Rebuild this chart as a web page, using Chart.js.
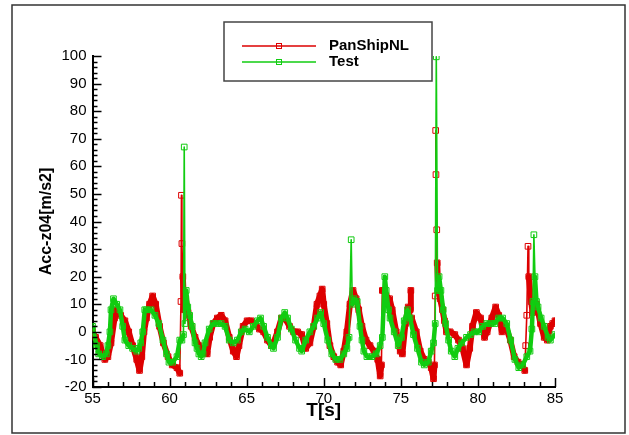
<!DOCTYPE html>
<html lang="en">
<head>
<meta charset="UTF-8">
<title>Acc-z04 PanShipNL vs Test</title>
<script src="https://cdn.jsdelivr.net/npm/chart.js"></script>
<style>
    body { margin: 0; background: #fff; }
    #wrap { position: relative; width: 629px; height: 435px; }
</style>
</head>
<body>
<div id="wrap">
    <canvas id="acc-chart" width="629" height="435"></canvas>
</div>
<script>
// [T(s), Acc]
const panShipNL = [
    [55.0,0],[55.2,-2],[55.5,-5],[55.8,-10],[56.0,-9],[56.2,-4],[56.43,5],[56.55,8],[56.83,6],[57.1,4],
    [57.35,0],[57.6,-5],[57.87,-10],[58.05,-14],[58.2,-9],[58.34,0],[58.5,5],[58.7,10],[58.9,13],[59.1,10],
    [59.35,2],[59.6,-4],[59.9,-9],[60.17,-12],[60.48,-13],[60.66,-15],[60.74,11],[60.77,49.5],[60.8,32],[60.86,20],
    [60.95,8],[61.05,12],[61.2,7],[61.4,2],[61.65,-2],[61.9,-5],[62.17,-7],[62.44,-8],[62.6,-2],[62.83,3],
    [63.1,5],[63.35,6],[63.6,4],[63.87,-2],[64.13,-7],[64.34,-9],[64.5,-5],[64.77,2],[65.03,4],[65.3,4],
    [65.56,3],[65.83,1],[66.1,0],[66.35,-3],[66.6,-5],[66.74,-4],[67.0,0],[67.26,5],[67.47,5],[67.78,2],
    [68.04,0],[68.3,0],[68.57,-1],[68.83,-6],[69.1,-4],[69.35,2],[69.56,10],[69.75,13],[69.9,15.5],[70.0,10],
    [70.2,3],[70.4,-5],[70.65,-9],[70.9,-11],[71.1,-12],[71.3,-7],[71.5,0],[71.7,10],[71.9,15],[72.1,12],
    [72.27,8],[72.48,2],[72.74,-3],[73.0,-5],[73.26,-7],[73.5,-10],[73.66,-16],[73.74,-12],[73.8,15],[73.9,15],
    [74.05,13],[74.27,12],[74.44,8],[74.7,0],[74.96,-7],[75.1,-8],[75.3,3],[75.48,9],[75.6,8],[75.65,15],
    [75.7,5],[76.0,0],[76.26,-7],[76.52,-10],[76.78,-11],[76.97,-13],[77.12,-17],[77.18,-12],[77.23,13],[77.26,73],
    [77.28,57],[77.33,37],[77.36,25],[77.43,15],[77.55,12],[77.7,8],[77.83,4],[77.96,0],[78.2,0],[78.5,-1],
    [78.74,-3],[79.0,-6],[79.26,-12],[79.47,-6],[79.65,2],[79.9,7],[80.17,5],[80.43,-2],[80.6,0],[80.9,5],
    [81.15,9],[81.35,6],[81.56,0],[81.8,2],[82.1,-3],[82.35,-9],[82.6,-11],[82.87,-12],[83.04,-14],[83.1,-5],
    [83.17,6],[83.25,31],[83.3,20],[83.45,11],[83.55,7],[83.8,10],[84.06,3],[84.3,-2],[84.5,-3],[84.7,2],
    [84.85,3],[85.0,4]
];

const testData = [
    [55.0,2],[55.26,-5],[55.4,-8],[55.65,-9],[55.9,-8],[56.0,-5],[56.13,0],[56.2,8],[56.36,12],[56.57,10],
    [56.78,8],[56.96,2],[57.1,-3],[57.35,-5],[57.6,-6],[57.87,-7],[58.0,-6],[58.13,-4],[58.26,0],[58.39,8],
    [58.5,8],[58.8,8],[59.05,6],[59.3,3],[59.57,-3],[59.8,-8],[59.96,-11],[60.2,-11],[60.48,-9],[60.66,-3],
    [60.8,-3],[60.9,-1],[60.95,67],[61.0,3],[61.08,15],[61.18,9],[61.3,6],[61.47,2],[61.65,-4],[61.78,-6],
    [61.9,-8],[62.05,-9],[62.17,-8],[62.3,-4],[62.57,1],[62.83,3],[63.1,3],[63.35,3],[63.6,2],[63.87,-3],
    [64.13,-4],[64.4,-3],[64.65,0],[64.9,1],[65.17,0],[65.43,2],[65.7,4],[65.9,5],[66.1,2],[66.35,-2],
    [66.6,-5],[66.74,-6],[67.0,-2],[67.26,5],[67.47,7],[67.65,5],[67.9,1],[68.17,-3],[68.43,-6],[68.57,-7],
    [68.83,-3],[69.1,0],[69.35,2],[69.6,5],[69.8,7],[70.0,3],[70.26,-3],[70.52,-8],[70.78,-10],[71.05,-10],
    [71.3,-8],[71.5,-6],[71.64,-2],[71.78,33.4],[71.85,10],[71.96,12],[72.17,11],[72.35,2],[72.48,-3],[72.6,-7],
    [72.8,-9],[73.13,-9],[73.4,-8],[73.66,-5],[73.8,-2],[73.96,20],[74.05,15],[74.2,8],[74.3,5],[74.57,0],
    [74.83,-5],[75.04,-2],[75.22,4],[75.43,8],[75.6,5],[75.82,-1],[76.08,-6],[76.34,-11],[76.52,-12],[76.78,-11],
    [76.97,-7],[77.12,-4],[77.23,3],[77.3,99.7],[77.38,15],[77.48,20],[77.6,15],[77.75,8],[77.9,3],[78.1,-3],
    [78.27,-7],[78.5,-9],[78.7,-6],[78.95,-4],[79.26,-2],[79.52,-1],[79.78,0],[80.05,0],[80.3,2],[80.57,3],
    [80.83,3],[81.1,3],[81.35,5],[81.6,5],[81.87,3],[82.13,-3],[82.4,-10],[82.65,-13],[82.9,-12],[83.17,-9],
    [83.38,-7],[83.5,1],[83.57,11],[83.63,35.2],[83.7,20],[83.8,11],[83.9,9],[84.1,5],[84.3,2],[84.55,-2],
    [84.7,-3],[85.0,-1]
];

const seriesNames = ["PanShipNL", "Test"];
const seriesColors = ["#dd0000", "#11cc11"];
const xTicks = [55, 60, 65, 70, 75, 80, 85];
const yTicks = [-20, -10, 0, 10, 20, 30, 40, 50, 60, 70, 80, 90, 100];

// thin line on the steep spikes, fat band elsewhere (the original has very dense markers)
function segWidth(fat) {
    return ctx => {
        const dy = Math.abs(ctx.p1.parsed.y - ctx.p0.parsed.y);
        const dx = Math.abs(ctx.p1.parsed.x - ctx.p0.parsed.x) || 0.001;
        return (dy > 8 && dy / dx > 150) ? 1.6 : fat;
    };
}

function makeSet(name, pts, color, fat, order) {
    return {
        label: name,
        data: pts.map(p => ({ x: p[0], y: p[1] })),
        borderColor: color,
        borderWidth: fat,
        borderJoinStyle: "round",
        borderCapStyle: "round",
        segment: { borderWidth: segWidth(fat) },
        pointStyle: "rect",
        pointRadius: 4,
        pointBorderWidth: 1,
        pointBorderColor: color,
        pointBackgroundColor: "rgba(255,255,255,0)",
        tension: 0,
        order: order
    };
}

const framePlugin = {
    id: "frame",
    beforeDraw(chart) {
        const c = chart.ctx;
        c.save();
        c.fillStyle = "#fff";
        c.fillRect(0, 0, chart.width, chart.height);
        c.strokeStyle = "#333";
        c.lineWidth = 1.5;
        c.strokeRect(12, 5, 613, 428);
        c.restore();
    },
    afterDraw(chart) {
        const c = chart.ctx;
        const a = chart.chartArea;
        const xs = chart.scales.x, ys = chart.scales.y;
        c.save();
        c.strokeStyle = "#000";
        c.lineWidth = 1.5;
        // inward ticks, minor every 2 on y, every 1 on x
        for (let v = -20; v <= 100; v += 2) {
            const py = Math.round(ys.getPixelForValue(v)) + 0.5;
            const len = v % 10 === 0 ? 9 : 5;
            c.beginPath(); c.moveTo(a.left, py); c.lineTo(a.left + len, py); c.stroke();
        }
        for (let t = 55; t <= 85; t += 1) {
            const px = Math.round(xs.getPixelForValue(t)) + 0.5;
            const len = t % 5 === 0 ? 9 : 5;
            c.beginPath(); c.moveTo(px, a.bottom); c.lineTo(px, a.bottom - len); c.stroke();
        }
        // axis titles
        c.fillStyle = "#000";
        c.font = "bold 16px 'Liberation Sans', Arial, sans-serif";
        c.textAlign = "center";
        c.textBaseline = "middle";
        c.save();
        c.translate(47, (a.top + a.bottom) / 2);
        c.rotate(-Math.PI / 2);
        c.fillText("Acc-z04[m/s2]", 0, 0);
        c.restore();
        c.font = "bold 19px 'Liberation Sans', Arial, sans-serif";
        c.fillText("T[s]", (a.left + a.right) / 2, 411);

        // legend box
        c.strokeStyle = "#444";
        c.lineWidth = 1.5;
        c.strokeRect(224, 22, 208, 59);
        const rows = [46, 62];
        seriesNames.forEach((name, i) => {
            const y = rows[i];
            c.strokeStyle = seriesColors[i];
            c.lineWidth = 1.5;
            c.beginPath(); c.moveTo(242, y); c.lineTo(316, y); c.stroke();
            c.lineWidth = 1;
            c.strokeRect(276.5, y - 2.5, 5, 5);
            c.fillStyle = "#000";
            c.font = "bold 15px 'Liberation Sans', Arial, sans-serif";
            c.textAlign = "left";
            c.fillText(name, 329, y);
        });
        c.restore();
    }
};

new Chart(document.getElementById("acc-chart").getContext("2d"), {
    type: "line",
    data: {
        datasets: [
            makeSet(seriesNames[0], panShipNL, seriesColors[0], 6, 2),
            makeSet(seriesNames[1], testData, seriesColors[1], 4.5, 1)
        ]
    },
    options: {
        responsive: false,
        animation: false,
        layout: { padding: { left: 0, top: 56, right: 74, bottom: 0 } },
        plugins: { legend: { display: false }, tooltip: { enabled: false } },
        scales: {
            x: {
                type: "linear",
                min: 55, max: 85,
                afterBuildTicks: s => { s.ticks = xTicks.map(v => ({ value: v })); },
                afterFit: s => { s.height = 48; },
                grid: { display: false, drawTicks: false },
                border: { display: true, color: "#000", width: 2 },
                ticks: { color: "#000", padding: 3, maxRotation: 0, font: { family: "'Liberation Sans', Arial, sans-serif", size: 15 } }
            },
            y: {
                min: -20, max: 100,
                afterBuildTicks: s => { s.ticks = yTicks.map(v => ({ value: v })); },
                afterFit: s => { s.width = 92.5; },
                grid: { display: false, drawTicks: false },
                border: { display: true, color: "#000", width: 2 },
                ticks: { color: "#000", padding: 6, font: { family: "'Liberation Sans', Arial, sans-serif", size: 15 } }
            }
        }
    },
    plugins: [framePlugin]
});
</script>
</body>
</html>
